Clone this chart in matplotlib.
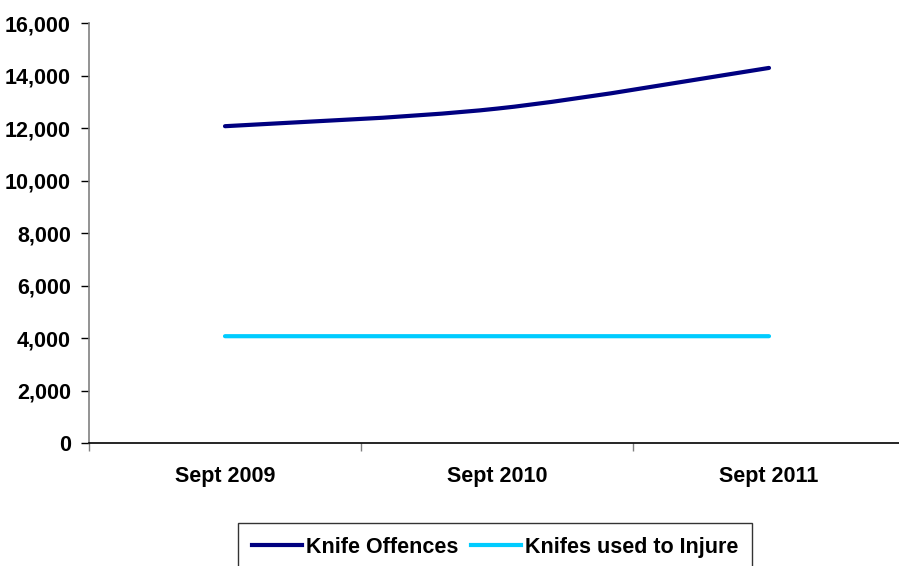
import matplotlib
matplotlib.use("Agg")
import matplotlib.pyplot as plt
import numpy as np
from matplotlib.path import Path
from matplotlib.patches import PathPatch
from matplotlib.lines import Line2D

# Daten
categories = ["Sept 2009", "Sept 2010", "Sept 2011"]
knife_offences = [12080, 12750, 14300]
knifes_injure = [4080, 4080, 4080]

plt.rcParams['font.family'] = ['Liberation Sans', 'DejaVu Sans']
plt.rcParams['font.weight'] = 'bold'


def smooth_path(xs, ys):
    """Curva suavizada estilo Excel (Bezier cubica)."""
    pts = np.column_stack([xs, ys]).astype(float)
    verts = [pts[0]]
    codes = [Path.MOVETO]
    n = len(pts)
    for i in range(n - 1):
        p0 = pts[i - 1] if i > 0 else pts[i]
        p1 = pts[i]
        p2 = pts[i + 1]
        p3 = pts[i + 2] if i + 2 < n else pts[i + 1]
        c1 = p1 + (p2 - p0) / 6.0
        c2 = p2 - (p3 - p1) / 6.0
        verts += [c1, c2, p2]
        codes += [Path.CURVE4] * 3
    return Path(verts, codes)


fig = plt.figure(figsize=(8.99, 5.66), dpi=100)
ax = fig.add_axes([89 / 899, 1 - 443.3 / 566, (905 - 89) / 899, 420 / 566])

x = np.arange(len(categories))
series = [(knife_offences, '#000080', 'Knife Offences'),
          (knifes_injure, '#00CCFF', 'Knifes used to Injure')]
handles = []
for vals, col, lab in series:
    patch = PathPatch(smooth_path(x, vals), facecolor='none', edgecolor=col,
                      lw=3, capstyle='round', joinstyle='round')
    ax.add_patch(patch)
    handles.append(Line2D([], [], color=col, lw=3, label=lab))

ax.set_xlim(-0.5, len(categories) - 0.5)
ax.set_ylim(0, 16000)
ax.set_yticks(np.arange(0, 16001, 2000))
ax.yaxis.set_major_formatter(matplotlib.ticker.FuncFormatter(lambda v, p: f"{int(v):,}"))
ax.tick_params(axis='y', length=6, width=1, pad=7, labelsize=15.5, color='black')

ax.set_xticks(np.arange(-0.5, len(categories) - 0.5, 1.0))
ax.set_xticklabels([])
ax.set_xticks(x, minor=True)
ax.set_xticklabels(categories, minor=True)
ax.tick_params(axis='x', which='major', length=6, width=1, color='#808080')
ax.tick_params(axis='x', which='minor', length=0, pad=16, labelsize=15.5)

for s in ['top', 'right']:
    ax.spines[s].set_visible(False)
ax.spines['left'].set_color('#808080')
ax.spines['left'].set_linewidth(1.2)
ax.spines['bottom'].set_color('black')
ax.spines['bottom'].set_linewidth(1.2)

leg = fig.legend(handles=handles, loc='upper left',
                 bbox_to_anchor=(238 / 899, 1 - 523 / 566), borderaxespad=0,
                 ncol=2, fontsize=15.5, frameon=True, fancybox=False,
                 handlelength=2.3, handletextpad=0.2, columnspacing=0.6,
                 borderpad=0.65)
leg.get_frame().set_edgecolor('black')
leg.get_frame().set_linewidth(1)

plt.savefig('out.png', dpi=100)
plt.close()
